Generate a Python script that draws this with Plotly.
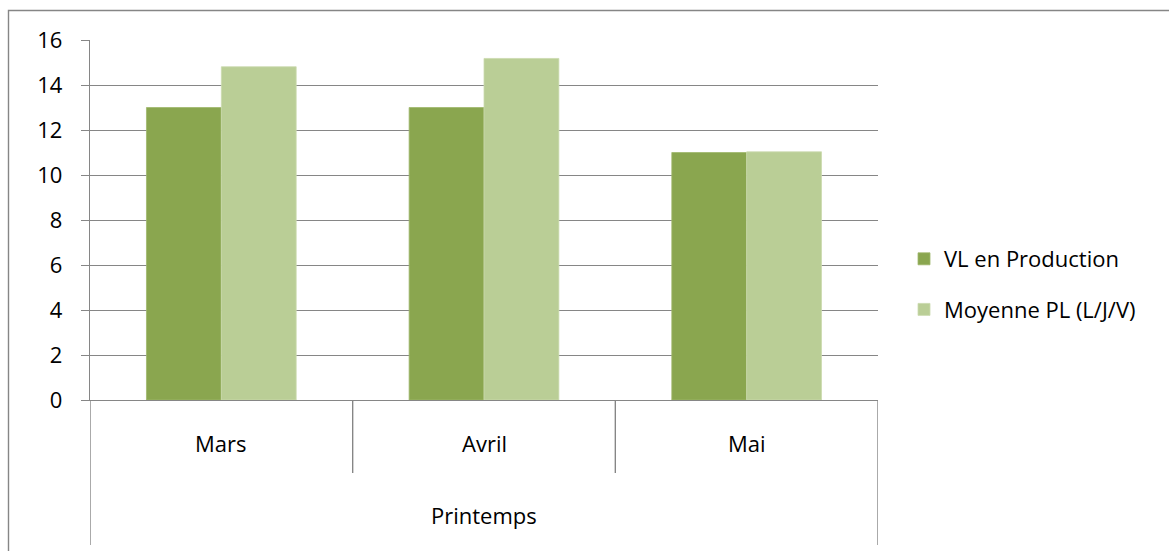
import plotly.graph_objects as go

# Data
season = "Printemps"
months = ["Mars", "Avril", "Mai"]
vl_production = [13, 13, 11]
moyenne_pl = [14.81, 15.18, 11.03]
y_ticks = [0, 2, 4, 6, 8, 10, 12, 14, 16]

# Canvas geometry (pixels)
W, H = 1169, 551
L, R, T, B = 90, 291, 40, 151
PW, PH = W - L - R, H - T - B

FONT = "Open Sans"
FS = 22
GRID = "#868686"
DARK = "#8AA64F"
LIGHT = "#BACE96"


def px_x(px):
    return (px - L) / PW


def px_y(py):
    return (H - B - py) / PH


fig = go.Figure()
fig.add_trace(go.Bar(x=months, y=vl_production, name="VL en Production",
                     marker=dict(color=DARK, line=dict(width=0.8, color="#9FB86C")),
                     legendgroup="a"))
fig.add_trace(go.Bar(x=months, y=moyenne_pl, name="Moyenne PL (L/J/V)",
                     marker=dict(color=LIGHT, line=dict(width=0.8, color="#CBDBAE")),
                     legendgroup="b"))

shapes = []
n = len(months)
# category dividers: inner boundaries span the month row, outer edges span both rows
for i in range(n + 1):
    edge = i == 0 or i == n
    shapes.append(dict(type="line", xref="x", yref="paper",
                       x0=i - 0.5, x1=i - 0.5, y0=0,
                       y1=px_y(545) if edge else px_y(473),
                       line=dict(color=GRID, width=1.4)))
# chart frame
shapes.append(dict(type="rect", xref="paper", yref="paper",
                   x0=px_x(8.5), x1=px_x(1180), y0=px_y(565), y1=px_y(10.5),
                   line=dict(color=GRID, width=1.4), fillcolor="rgba(0,0,0,0)",
                   layer="below"))

annotations = []
for m in months:
    annotations.append(dict(x=m, xref="x", y=0, yref="paper", text=m,
                            showarrow=False, yanchor="middle", yshift=-43,
                            font=dict(family=FONT, size=FS, color="black")))
annotations.append(dict(x=(n - 1) / 2, xref="x", y=0, yref="paper", text=season,
                        showarrow=False, yanchor="middle", yshift=-115,
                        font=dict(family=FONT, size=FS, color="black")))

fig.update_layout(
    width=W, height=H,
    margin=dict(l=L, r=R, t=T, b=B),
    paper_bgcolor="white", plot_bgcolor="white",
    barmode="group", bargap=0.43, bargroupgap=0,
    font=dict(family=FONT, size=FS, color="black"),
    showlegend=True,
    legend=dict(x=px_x(904), y=px_y(284.5), xanchor="left", yanchor="middle",
                tracegroupgap=19, font=dict(family=FONT, size=FS, color="black"),
                bgcolor="rgba(0,0,0,0)"),
    shapes=shapes,
    annotations=annotations,
    xaxis=dict(type="category", showticklabels=False, ticks="",
               showline=True, linecolor=GRID, linewidth=1.4,
               showgrid=False, zeroline=False, range=[-0.5, n - 0.5]),
    yaxis=dict(range=[0, 16], tickvals=y_ticks, ticks="outside", ticklen=8,
               tickcolor=GRID, tickwidth=1.4, showline=True, linecolor=GRID,
               linewidth=1.4, showgrid=True, gridcolor=GRID, gridwidth=1.4,
               zeroline=False, ticklabelstandoff=14,
               tickfont=dict(family=FONT, size=FS, color="black")),
)

fig.write_html("out.html")
